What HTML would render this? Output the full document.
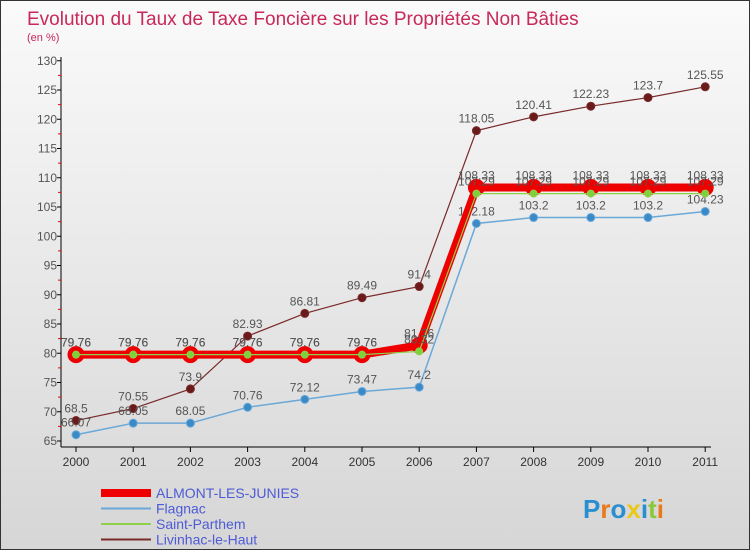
<!DOCTYPE html>
<html><head><meta charset="utf-8"><style>
body{margin:0;width:750px;height:550px;overflow:hidden;font-family:"Liberation Sans",sans-serif}
#c{position:absolute;left:0;top:0;width:748px;height:548px;border:1px solid #333;background:linear-gradient(#fafafa,#d6d6d6)}
</style></head><body>
<div id="c">
<svg id="s" width="748" height="548">
<text x="26" y="24" font-size="19" fill="#c8285a">Evolution du Taux de Taxe Foncière sur les Propriétés Non Bâties</text>
<text x="26" y="40" font-size="11" fill="#c8285a">(en %)</text>
</svg></div>
<script>
const years=[2000,2001,2002,2003,2004,2005,2006,2007,2008,2009,2010,2011];
const yTicks=[65,70,75,80,85,90,95,100,105,110,115,120,125,130];
const almont=[79.76,79.76,79.76,79.76,79.76,79.76,81.36,108.33,108.33,108.33,108.33,108.33];
const flagnac=[66.07,68.05,68.05,70.76,72.12,73.47,74.2,102.18,103.2,103.2,103.2,104.23];
const stParthem=[79.76,79.76,79.76,79.76,79.76,79.76,80.32,107.29,107.29,107.29,107.29,107.29];
const livinhac=[68.5,70.55,73.9,82.93,86.81,89.49,91.4,118.05,120.41,122.23,123.7,125.55];
const names=["ALMONT-LES-JUNIES","Flagnac","Saint-Parthem","Livinhac-le-Haut"];
const s=document.getElementById('s'),NS="http://www.w3.org/2000/svg";
const X=i=>75+i*57.2, Y=v=>440-(v-65)*5.85;
function mk(t,a,p){const e=document.createElementNS(NS,t);for(const k in a)e.setAttribute(k,a[k]);(p||s).appendChild(e);return e;}
let ax=mk('line',{x1:60,y1:56,x2:60,y2:446,stroke:'#000'});


let bx=mk('line',{x1:60,y1:446,x2:710,y2:446,stroke:'#000'});


yTicks.forEach(v=>{let t=mk('text',{x:56,y:Y(v)+4,'font-size':12,fill:'#555','text-anchor':'end'});t.textContent=v;


mk('line',{x1:56,y1:Y(v),x2:60,y2:Y(v),stroke:'#000'});
if(v<130)mk('line',{x1:57,y1:Y(v+2.5),x2:60,y2:Y(v+2.5),stroke:'#e00'});});
years.forEach((y,i)=>{mk('line',{x1:X(i),y1:446,x2:X(i),y2:451,stroke:'#000'});
let t=mk('text',{x:X(i),y:465,'font-size':12,fill:'#333','text-anchor':'middle'});t.textContent=y;

});
function series(d,col,w,r,dot,name){const g=mk('g',{});


mk('polyline',{points:d.map((v,i)=>X(i)+','+Y(v)).join(' '),fill:'none',stroke:col,'stroke-width':w},g);
d.forEach((v,i)=>{let c=mk('circle',{cx:X(i),cy:Y(v),r:r,fill:dot,stroke:col,'stroke-width':1},g);


let t=mk('text',{x:X(i),y:Y(v)-8,'font-size':12,fill:'#555','text-anchor':'middle'},g);t.textContent=v;});}
series(livinhac,'#7a2a2a',1.2,4,'#6a1a1a','series-livinhac');
series(flagnac,'#6aa8d8',1.5,4,'#3a8ac8','series-flagnac');
series(almont,'#ee0000',8,8,'#ee0000','series-almont');
series(stParthem,'#8fd04a',1.2,3.5,'#7cd23a','series-saint-parthem');
const lc=['#ee0000','#6aa8d8','#8fd04a','#7a2a2a'],lw=[8,2,2,2];
names.forEach((n,i)=>{const y=492+i*15.5;
mk('line',{x1:100,y1:y,x2:150,y2:y,stroke:lc[i],'stroke-width':lw[i]});
let t=mk('text',{x:155,y:y+5,'font-size':14,fill:'#4d5bd6'});t.textContent=n;

});
let p=mk('text',{x:582,y:517,'font-size':26,'font-weight':'bold',fill:'#2a8fd0'});


const lcol=['#2a8fd0','#e87a1a','#2a8fd0','#e8c81a','#2a8fd0','#8ac83a','#e87a1a'];
'Proxiti'.split('').forEach((ch,i)=>{let ts=mk('tspan',{fill:lcol[i]},p);ts.textContent=ch;});
</script></body></html>
